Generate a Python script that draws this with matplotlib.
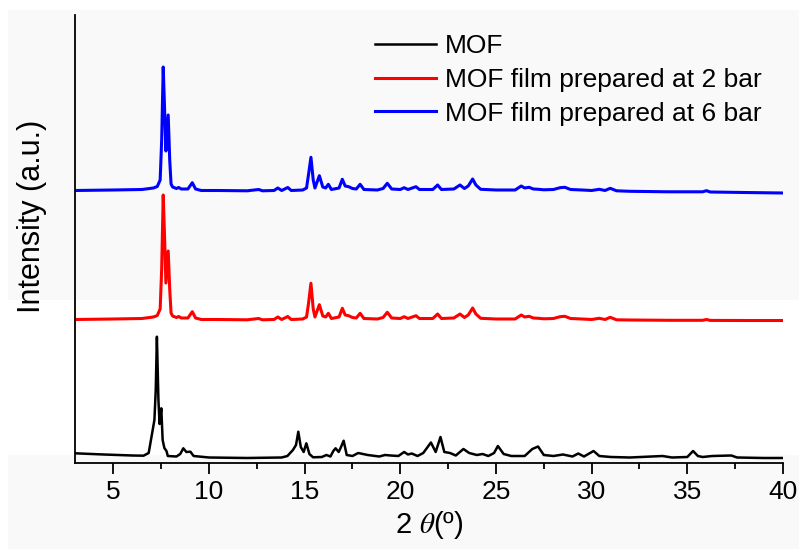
import matplotlib
matplotlib.use("Agg")
import matplotlib.pyplot as plt
from matplotlib.patches import Rectangle
from matplotlib.ticker import MultipleLocator

plt.rcParams['font.family'] = ['Liberation Sans', 'DejaVu Sans']
plt.rcParams['mathtext.fontset'] = 'stix'

# 2theta positions (blue / red films share the same peaks)
film_2theta = [3.0, 5.0, 6.5, 7.1, 7.3, 7.45, 7.53, 7.61, 7.7, 7.75, 7.87, 7.95, 8.02, 8.1,
               8.3, 8.42, 8.55, 8.9, 9.13, 9.3, 9.6, 10.5, 12.0, 12.6, 12.8, 13.4, 13.6,
               13.8, 14.12, 14.3, 14.9, 15.1, 15.2, 15.33, 15.45, 15.54, 15.77, 15.95,
               16.1, 16.24, 16.4, 16.8, 16.97, 17.12, 17.3, 17.5, 17.7, 17.9, 18.1, 18.8,
               19.1, 19.32, 19.55, 20.0, 20.2, 20.4, 20.82, 21.0, 21.7, 21.95, 22.15, 22.8,
               23.12, 23.35, 23.55, 23.78, 23.95, 24.2, 25.0, 26.0, 26.32, 26.5, 26.73,
               26.95, 27.22, 27.5, 28.0, 28.35, 28.6, 28.9, 29.5, 30.0, 30.4, 30.7, 30.97,
               31.3, 32.0, 34.0, 35.8, 36.0, 36.2, 38.0, 40.0]

# film prepared at 6 bar (stacked, a.u.)
bar6 = [272.5, 273, 273.5, 275, 276.5, 283, 323, 396, 343, 312, 348, 303, 279, 276,
        274.5, 275.5, 274, 274, 280.3, 274, 272.5, 272.5, 272.2, 273.5, 272.2, 272.5, 275,
        272.5, 275.5, 272.5, 273, 275, 288, 305.7, 283, 275, 287.3, 276,
        275, 278.7, 273.5, 275, 283.7, 277, 276.3, 274.5, 274, 278.7, 273.5, 273,
        274.5, 279.7, 274, 273.5, 275.3, 273.5, 276.3, 273.5, 273.5, 278, 273.5, 274,
        278, 274.5, 277, 284, 278, 273.7, 273, 273, 277, 275, 275.7,
        274, 273.7, 273.2, 273.5, 275.3, 275.7, 273.5, 273, 272.5, 273.7, 272.5, 274.7,
        272.2, 271.7, 271.2, 271.2, 272.3, 271, 270.5, 270]

# film prepared at 2 bar
bar2 = [143.5, 144, 144.5, 146, 147.5, 154, 194, 268, 214, 180, 212, 174, 150, 147,
        145.5, 146.5, 145, 145, 151.3, 145, 143.5, 143.5, 143.2, 144.5, 143.2, 143.5, 146,
        143.5, 146.5, 143.5, 144, 146, 159, 179.7, 154, 146, 158.3, 147,
        146, 149.7, 144.5, 146, 154.7, 148, 147.3, 145.5, 145, 149.7, 144.5, 144,
        145.5, 150.7, 145, 144.5, 146.3, 144.5, 147.3, 144.5, 144.5, 149, 144.5, 145,
        149, 145.5, 148, 155, 149, 144.7, 144, 144, 148, 146, 146.7,
        145, 144.7, 144.2, 144.5, 146.3, 146.7, 144.5, 144, 143.5, 144.7, 143.5, 145.7,
        143.2, 143, 142.7, 142.7, 143.5, 142.6, 142.5, 142.5]

# MOF powder
mof_2theta = [3.0, 4.5, 6.0, 6.58, 6.85, 7.06, 7.15, 7.22, 7.28, 7.36, 7.42, 7.51, 7.58,
              7.67, 7.78, 7.85, 8.3, 8.5, 8.66, 8.82, 9.03, 9.2, 10.0, 12.0, 13.8, 14.1,
              14.39, 14.55, 14.67, 14.8, 14.95, 15.09, 15.25, 15.44, 15.9, 16.14, 16.35,
              16.5, 16.62, 16.78, 16.88, 17.04, 17.2, 17.5, 17.8, 18.3, 18.9, 19.2, 19.5,
              19.9, 20.2, 20.4, 20.6, 20.9, 21.2, 21.6, 21.85, 22.1, 22.3, 22.6, 22.9, 23.3,
              23.6, 24.0, 24.3, 24.6, 24.9, 25.1, 25.4, 25.8, 26.5, 26.9, 27.2, 27.5, 28.0,
              28.5, 29.0, 29.3, 29.6, 30.1, 30.4, 31.0, 32.0, 33.7, 34.2, 35.0, 35.3, 35.55,
              35.8, 36.3, 37.3, 37.6, 39.0, 40.0]
mof = [9.7, 8.5, 7.5, 7.3, 10, 33, 43, 73, 126.3, 63, 39, 54.7, 23,
       15, 12, 7, 6.5, 9, 14.7, 11, 11.3, 7, 5.5, 5, 5.5, 7,
       13, 18, 31.3, 16, 11, 19.7, 9, 5.7, 6, 8, 6.5,
       12, 14.7, 11, 15, 22.3, 8, 7, 10, 8, 6.5, 8, 7.5,
       7, 11, 8.5, 9.5, 7, 10, 20.5, 11, 26, 11, 10, 7.5, 14,
       10, 8, 9, 7, 10, 17, 9, 7, 7, 14, 16.5, 8, 7,
       8.5, 6.5, 9.5, 6.5, 12, 7, 6, 5.5, 7, 5.5, 6, 12, 7,
       6, 7, 7.5, 5.5, 5, 5]

labels = ['MOF', 'MOF film prepared at 2 bar', 'MOF film prepared at 6 bar']

fig = plt.figure(figsize=(7.99, 5.49), dpi=100)
fig.patch.set_facecolor('white')
# light grey screenshot bands behind the plot
fig.patches.append(Rectangle((8/799, 1-300/549), 1, 290/549, transform=fig.transFigure,
                             facecolor='#f9f9f9', edgecolor='none', zorder=-10))
fig.patches.append(Rectangle((8/799, 0), 1, 1-455/549, transform=fig.transFigure,
                             facecolor='#f9f9f9', edgecolor='none', zorder=-10))

ax = fig.add_axes([75/799, 1-463/549, (783-75)/799, (463-15)/549])
ax.set_facecolor('none')
ax.set_zorder(5)

ax.plot(mof_2theta, mof, color='black', lw=1.8, label=labels[0])
ax.plot(film_2theta, bar2, color='#ff0000', lw=2.2, label=labels[1])
ax.plot(film_2theta, bar6, color='#0000ff', lw=2.2, label=labels[2])

ax.set_xlim(3, 40)
ax.set_ylim(0, 448)
ax.set_yticks([])
ax.xaxis.set_major_locator(MultipleLocator(5))
ax.xaxis.set_minor_locator(MultipleLocator(2.5))
ax.tick_params(axis='x', which='major', length=8, width=1.3, direction='out',
               labelsize=19, pad=4)
ax.tick_params(axis='x', which='minor', length=4.5, width=1.3, direction='out')
for s in ['top', 'right']:
    ax.spines[s].set_visible(False)
for s in ['left', 'bottom']:
    ax.spines[s].set_linewidth(1.3)

ax.set_xlabel('2 $\\theta$(º)', fontsize=21, labelpad=4)
ax.set_ylabel('Intensity (a.u.)', fontsize=22)
ax.yaxis.set_label_coords(-0.04, 0.55)

ax.legend(loc='upper left', bbox_to_anchor=(375/799, 1-34/549),
          bbox_transform=fig.transFigure, frameon=False, fontsize=19,
          borderpad=0, borderaxespad=0, handlelength=2.3, handletextpad=0.35,
          labelspacing=0.37)

fig.savefig('out.png', dpi=100)
